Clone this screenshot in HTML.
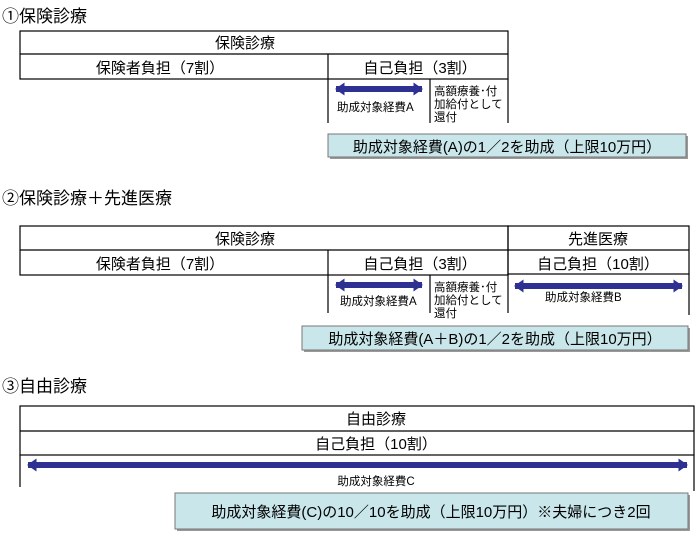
<!DOCTYPE html>
<html><head><meta charset="utf-8"><style>
html,body{margin:0;padding:0;background:#fff;}
svg{display:block;font-family:"Liberation Sans","Noto Sans CJK JP",sans-serif;}
</style></head><body>
<svg width="700" height="536" viewBox="0 0 700 536" xmlns="http://www.w3.org/2000/svg">
<defs>
<marker id="ah" viewBox="0 0 10 10" refX="9" refY="5" markerWidth="1.6" markerHeight="2.2" orient="auto-start-reverse" preserveAspectRatio="none"><path d="M0,0 L10,5 L0,10 z" fill="#2e3192"/></marker>
</defs>
<g fill="#000" font-size="17">
<text x="2" y="22">①保険診療</text>
<text x="2" y="204">②保険診療＋先進医療</text>
<text x="2" y="392">③自由診療</text>
</g>
<!-- Section 1 -->
<g stroke="#000" stroke-width="1.2" fill="none">
<rect x="20" y="31" width="488" height="48"/>
<line x1="20" y1="54" x2="508" y2="54"/>
<line x1="328" y1="54" x2="328" y2="123"/>
<line x1="430" y1="79" x2="430" y2="123"/>
<line x1="508" y1="79" x2="508" y2="123"/>
</g>
<g font-size="15" text-anchor="middle">
<text x="245" y="48">保険診療</text>
<text x="160" y="73">保険者負担（7割）</text>
<text x="420" y="73">自己負担（3割）</text>
</g>
<line x1="336" y1="89" x2="422" y2="89" stroke="#2e3192" stroke-width="6" marker-start="url(#ah)" marker-end="url(#ah)"/>
<g font-size="11.5">
<text x="337" y="111">助成対象経費A</text>
<text x="434" y="95">高額療養･付</text>
<text x="434" y="108">加給付として</text>
<text x="434" y="121">還付</text>
</g>
<rect x="330" y="136" width="358" height="23" fill="#999"/>
<rect x="328" y="134" width="358" height="23" fill="#c9e6ea" stroke="#777" stroke-width="1"/>
<text x="507" y="152" font-size="15" text-anchor="middle">助成対象経費(A)の1／2を助成（上限10万円）</text>
<!-- Section 2 -->
<g stroke="#000" stroke-width="1.2" fill="none">
<rect x="20" y="226" width="488" height="49"/>
<line x1="20" y1="250" x2="508" y2="250"/>
<rect x="508" y="226" width="181" height="48"/>
<line x1="508" y1="250" x2="689" y2="250"/>
<line x1="328" y1="250" x2="328" y2="313"/>
<line x1="430" y1="275" x2="430" y2="313"/>
<line x1="508" y1="274" x2="508" y2="313"/>
<line x1="689" y1="274" x2="689" y2="315"/>
</g>
<g font-size="15" text-anchor="middle">
<text x="245" y="244">保険診療</text>
<text x="598" y="244">先進医療</text>
<text x="160" y="269">保険者負担（7割）</text>
<text x="420" y="269">自己負担（3割）</text>
<text x="598" y="269">自己負担（10割）</text>
</g>
<line x1="336" y1="285" x2="422" y2="285" stroke="#2e3192" stroke-width="6" marker-start="url(#ah)" marker-end="url(#ah)"/>
<line x1="515" y1="286" x2="682" y2="286" stroke="#2e3192" stroke-width="6" marker-start="url(#ah)" marker-end="url(#ah)"/>
<g font-size="11.5">
<text x="340" y="305">助成対象経費A</text>
<text x="545" y="301">助成対象経費B</text>
<text x="434" y="291">高額療養･付</text>
<text x="434" y="304">加給付として</text>
<text x="434" y="317">還付</text>
</g>
<rect x="304" y="328" width="386" height="24" fill="#999"/>
<rect x="302" y="326" width="386" height="24" fill="#c9e6ea" stroke="#777" stroke-width="1"/>
<text x="495" y="344" font-size="15" text-anchor="middle">助成対象経費(A＋B)の1／2を助成（上限10万円）</text>
<!-- Section 3 -->
<g stroke="#000" stroke-width="1.2" fill="none">
<rect x="20" y="406" width="674" height="49"/>
<line x1="20" y1="431" x2="694" y2="431"/>
<line x1="20" y1="455" x2="20" y2="487"/>
<line x1="694" y1="455" x2="694" y2="491"/>
</g>
<g font-size="15" text-anchor="middle">
<text x="376" y="424">自由診療</text>
<text x="376" y="449">自己負担（10割）</text>
</g>
<line x1="28" y1="465" x2="687" y2="465" stroke="#2e3192" stroke-width="6" marker-start="url(#ah)" marker-end="url(#ah)"/>
<text x="376" y="485" font-size="11.5" text-anchor="middle">助成対象経費C</text>
<rect x="177" y="495" width="513" height="36" fill="#999"/>
<rect x="175" y="493" width="513" height="36" fill="#c9e6ea" stroke="#777" stroke-width="1"/>
<text x="431" y="517" font-size="15" text-anchor="middle">助成対象経費(C)の10／10を助成（上限10万円）※夫婦につき2回</text>
</svg>
</body></html>
